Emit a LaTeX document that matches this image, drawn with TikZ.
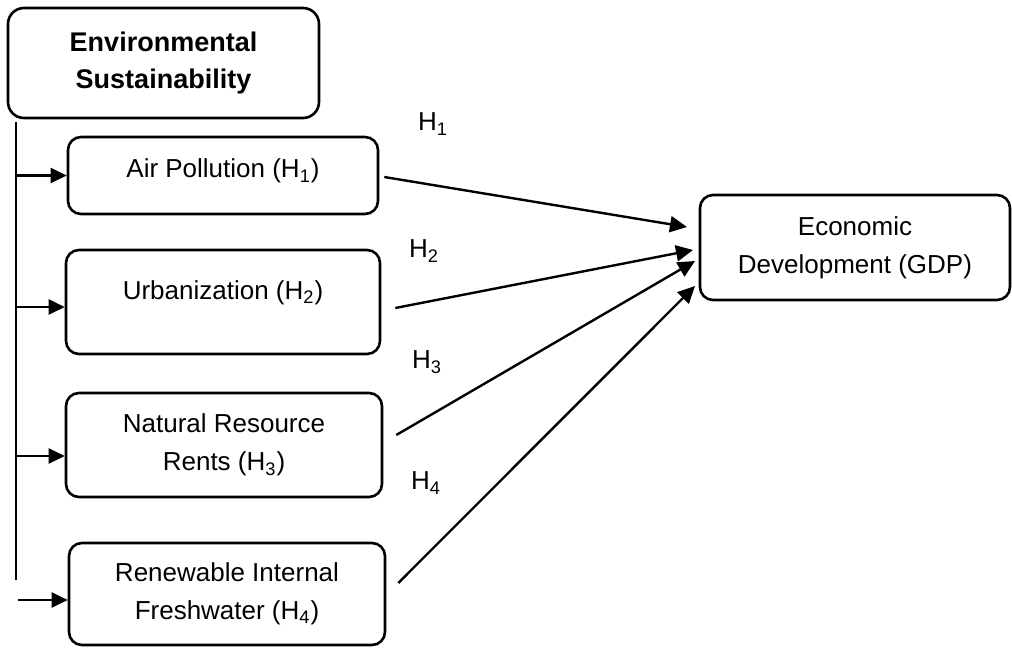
\documentclass[tikz,border=0pt]{standalone}
\usepackage{fontspec}
\setmainfont{Liberation Sans}
\usetikzlibrary{arrows.meta}

\tikzset{
  varbox/.style={draw, line width=1.3pt, rounded corners=6.5pt, align=center, inner sep=2pt},
  feedarrow/.style={line width=1.1pt, -{Triangle[length=8pt,width=7.5pt]}},
  hyparrow/.style={line width=1.2pt, -{Triangle[length=8.5pt,width=8pt]}},
  hlabel/.style={inner sep=0pt},
}

\begin{document}
\begin{tikzpicture}[x=0.5pt,y=-0.5pt,font=\fontsize{13}{19}\selectfont]
  \useasboundingbox (0,0) rectangle (1012,648);
  \node[varbox, minimum width=155.5pt, minimum height=55pt, rounded corners=8pt, font=\fontsize{13.5}{18.5}\selectfont\bfseries] (env) at (163.5,63) {Environmental\\Sustainability};
  \node[varbox, minimum width=155pt, minimum height=38.5pt, text depth=7pt] (air) at (223,175.5) {Air Pollution (H\textsubscript{1})};
  \node[varbox, minimum width=157pt, minimum height=52pt, text depth=12pt] (urb) at (223,302) {Urbanization (H\textsubscript{2})};
  \node[varbox, minimum width=158pt, minimum height=52pt] (nat) at (224,445) {Natural Resource\\Rents (H\textsubscript{3})};
  \node[varbox, minimum width=158pt, minimum height=51pt] (ren) at (227,594) {Renewable Internal\\Freshwater (H\textsubscript{4})};
  \node[varbox, minimum width=155pt, minimum height=52.5pt] (gdp) at (855,247.5) {Economic\\Development (GDP)};

  \coordinate (trunk) at (16,122);
  \coordinate (trunkend) at (16,580);
  \draw[line width=0.6pt] (trunk) -- (trunkend);
  \draw[feedarrow] (air.west -| trunk) -- (air.west);
  \draw[feedarrow, transform canvas={yshift=-2.5pt}] (urb.west -| trunk) -- (urb.west);
  \draw[feedarrow, transform canvas={yshift=-5.5pt}] (nat.west -| trunk) -- (nat.west);
  \draw[feedarrow, transform canvas={yshift=-3pt}] ([xshift=1pt]ren.west -| trunk) -- (ren.west);

  \coordinate (t1) at (687,227);
  \coordinate (t2) at (693,250);
  \coordinate (t3) at (695,261);
  \coordinate (t4) at (695,286);
  \draw[hyparrow] ([xshift=2.5pt,yshift=-0.75pt]air.east) -- (t1);
  \draw[hyparrow] ([xshift=7pt,yshift=-3pt]urb.east) -- (t2);
  \draw[hyparrow] ([xshift=6.5pt,yshift=5pt]nat.east) -- (t3);
  \draw[hyparrow] ([xshift=6pt,yshift=5.5pt]ren.east) -- (t4);

  \node[hlabel] (h1) at (433,124) {H\textsubscript{1}};
  \node[hlabel] (h2) at (424,251) {H\textsubscript{2}};
  \node[hlabel] (h3) at (427,362) {H\textsubscript{3}};
  \node[hlabel] (h4) at (426,483) {H\textsubscript{4}};
\end{tikzpicture}
\end{document}
